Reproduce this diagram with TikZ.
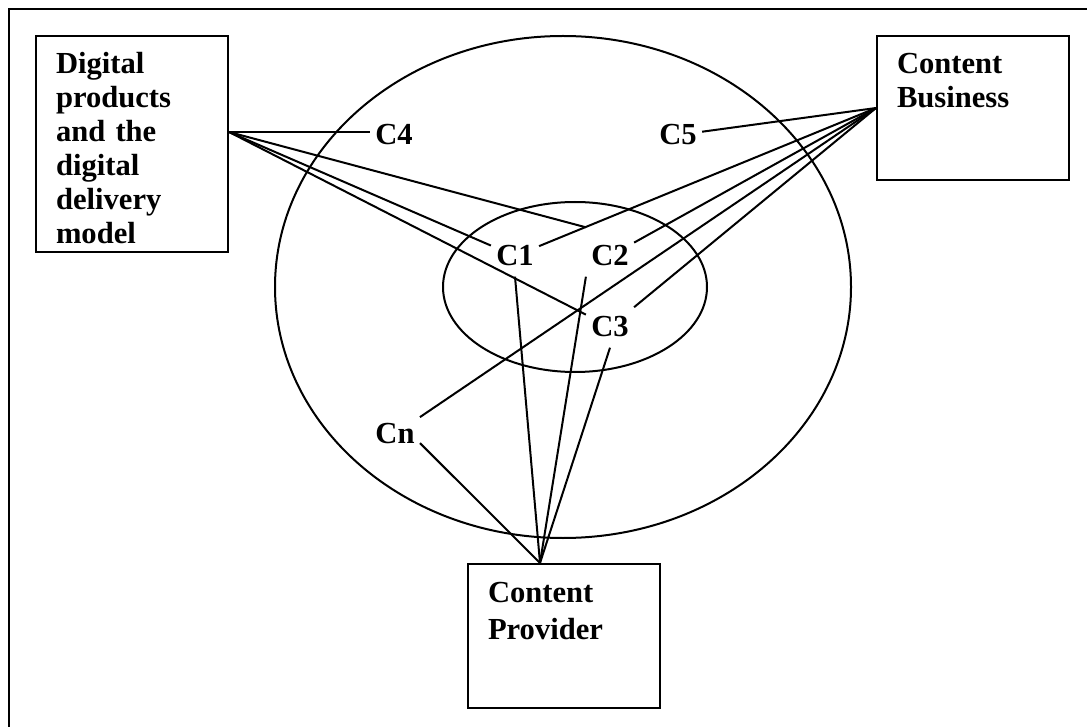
\documentclass[tikz,border=0pt]{standalone}
\usepackage{fontspec}
\setmainfont{Liberation Serif}
\usetikzlibrary{positioning}
\tikzset{
  actor/.style={draw, line width=1pt, anchor=north west, align=left,
                inner xsep=10pt, inner ysep=0pt, text width=76pt, text height=19pt},
  comp/.style={inner xsep=2.5pt, inner ysep=5pt},
  link/.style={line width=1pt},
  ring/.style={line width=1pt},
  frame/.style={line width=1.3pt},
}

\begin{document}
\begin{tikzpicture}[x=0.5pt, y=-0.5pt,
  every node/.style={font=\fontsize{15.3}{17}\selectfont\bfseries}]
\useasboundingbox (0,0) rectangle (1087,727);
\clip (0,0) rectangle (1087,727);
\draw[frame] (9,9) rectangle (1110,750);

%Rings
\draw[ring] (563,287) ellipse [x radius=288, y radius=251];
\draw[ring] (575,287) ellipse [x radius=132, y radius=85];

%Nodes
\node[actor, text depth=89pt] (digital) at (35,35) {Digital\\products\\and the\\digital\\delivery\\model};
\node[actor, text depth=53pt] (business) at (876,35) {Content\\Business};
\node[actor, text depth=53pt] (provider) at (467,563) {Content\\[1.5pt]Provider};
\node[comp] (c1) at (515,256) {C1};
\node[comp] (c2) at (610,256) {C2};
\node[comp] (c3) at (610,327) {C3};
\node[comp] (c4) at (394,135) {C4};
\node[comp] (c5) at (678,135) {C5};
\node[comp] (cn) at (395,434) {Cn};
\coordinate (digital-out) at ([yshift=6pt]digital.east);
\coordinate (provider-in) at ([xshift=-12pt]provider.north);

%Lines
\draw[link] (digital-out) -- (digital-out -| c4.west);
\draw[link] (digital-out) -- ([yshift=4pt]c2.north west);
\draw[link] (digital-out) -- (c1);
\draw[link] (digital-out) -- (c3);
\draw[link] (business.west) -- (c5);
\draw[link] (business.west) -- (c1);
\draw[link] (business.west) -- (c2);
\draw[link] (business.west) -- (c3);
\draw[link] (business.west) -- (cn);
\draw[link] (provider-in) -- (cn.-20);
\draw[link] (provider-in) -- (c1.south);
\draw[link] (provider-in) -- (c2.south west);
\draw[link] (provider-in) -- (c3.south);
\end{tikzpicture}
\end{document}
